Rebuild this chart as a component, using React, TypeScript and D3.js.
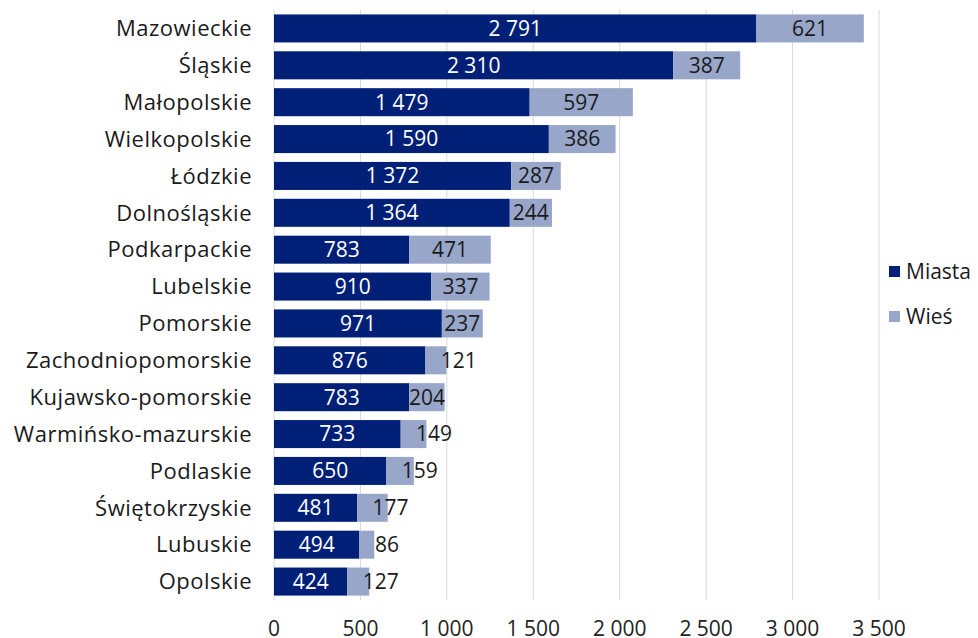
import * as d3 from "d3";

const categories = [
  "Mazowieckie", "Śląskie", "Małopolskie", "Wielkopolskie", "Łódzkie", "Dolnośląskie",
  "Podkarpackie", "Lubelskie", "Pomorskie", "Zachodniopomorskie", "Kujawsko-pomorskie",
  "Warmińsko-mazurskie", "Podlaskie", "Świętokrzyskie", "Lubuskie", "Opolskie",
];
const miasta = [2791, 2310, 1479, 1590, 1372, 1364, 783, 910, 971, 876, 783, 733, 650, 481, 494, 424];
const wies = [621, 387, 597, 386, 287, 244, 471, 337, 237, 121, 204, 149, 159, 177, 86, 127];
const ticks = [0, 500, 1000, 1500, 2000, 2500, 3000, 3500];
const seriesNames = ["Miasta", "Wieś"];
const colors = ["#002078", "#98A6CA"];

const width = 978;
const height = 638;
const font = "'Open Sans', sans-serif";

const fmt = (v: number) => d3.format(",")(v).replace(/,/g, " ");

// rough label width, used to push labels that don't fit in the segment
const labelWidth = (s: string) => s.length * 11.6;

export default function App() {
  const x = d3.scaleLinear().domain([0, 3500]).range([274, 879]);
  const y = d3.scaleBand().domain(categories).range([10, 600]).paddingInner(0.24).paddingOuter(0.12);
  const bw = y.bandwidth();

  return (
    <div style={{ position: "absolute", left: 0, top: 0 }}>
      <svg width={width} height={height} style={{ display: "block", fontFamily: font }}>
        <rect width={width} height={height} fill="#fff" />
        {ticks.map((t) => (
          <g key={t}>
            <line x1={x(t)} x2={x(t)} y1={10} y2={600} stroke="#d9d9d9" strokeWidth={1} />
            <text x={x(t)} y={636} textAnchor="middle" fontSize={21} fill="#222">
              {fmt(t)}
            </text>
          </g>
        ))}
        {categories.map((c, i) => {
          const y0 = y(c)!;
          const cy = y0 + bw / 2;
          const m = miasta[i];
          const w = wies[i];
          const segW = x(m + w) - x(m);
          const lbl = fmt(w);
          const lw = labelWidth(lbl);
          const wx = lw > segW + 2 ? x(m) + 16 + lw / 2 : (x(m) + x(m + w)) / 2;
          return (
            <g key={c}>
              <text x={252} y={cy} dy="0.35em" textAnchor="end" fontSize={22} letterSpacing={0.5} fill="#1a1a1a">
                {c}
              </text>
              <rect x={x(0)} y={y0} width={x(m) - x(0)} height={bw} fill={colors[0]} />
              <rect x={x(m)} y={y0} width={segW} height={bw} fill={colors[1]} />
              <text x={(x(0) + x(m)) / 2} y={cy} dy="0.35em" textAnchor="middle" fontSize={21} fill="#fff">
                {fmt(m)}
              </text>
              <text x={wx} y={cy} dy="0.35em" textAnchor="middle" fontSize={21} fill="#1a1a1a">
                {lbl}
              </text>
            </g>
          );
        })}
        {seriesNames.map((s, i) => (
          <g key={s} transform={`translate(889,${266 + i * 45})`}>
            <rect width={11} height={11} fill={colors[i]} />
            <text x={17} y={5.5} dy="0.35em" fontSize={21} fill="#1a1a1a">
              {s}
            </text>
          </g>
        ))}
      </svg>
    </div>
  );
}
